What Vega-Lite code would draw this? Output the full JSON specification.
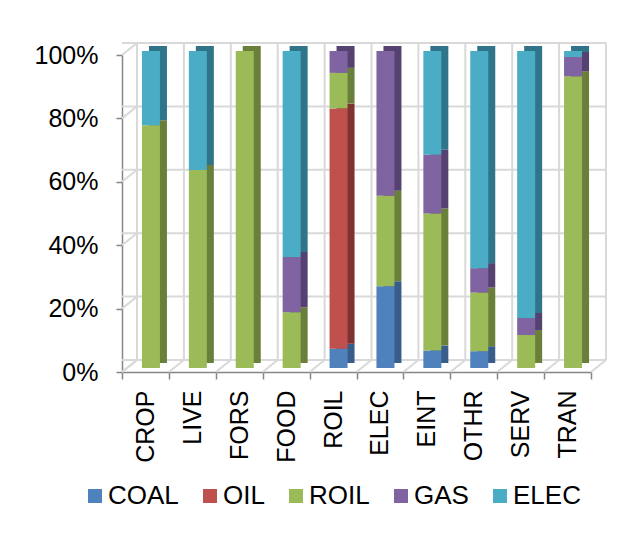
{
  "$schema": "https://vega.github.io/schema/vega-lite/v6.json",
  "width": 469,
  "height": 317,
  "autosize": {"type": "none"},
  "padding": {"left": 122, "top": 55, "right": 48, "bottom": 164},
  "background": "white",
  "config": {
    "view": {"stroke": null},
    "font": "Liberation Sans",
    "axisX": {
      "labelAngle": -90, "tickBand": "extent", "labelFontSize": 25, "labelColor": "black",
      "tickSize": 7, "labelPadding": 11, "domainColor": "#868686", "tickColor": "#868686",
      "domainWidth": 1.5, "tickWidth": 1.5, "grid": false
    },
    "axisY": {
      "labelFontSize": 25, "labelColor": "black", "tickCount": 5,
      "tickSize": 6, "labelPadding": 18, "domainColor": "#868686", "tickColor": "#868686",
      "domainWidth": 1.5, "tickWidth": 1.5, "grid": false
    }
  },
  "datasets": {
    "energy": [
      {"sector": "CROP", "fuel": "ROIL", "value": 76.6},
      {"sector": "CROP", "fuel": "ELEC", "value": 23.4},
      {"sector": "LIVE", "fuel": "ROIL", "value": 62.5},
      {"sector": "LIVE", "fuel": "ELEC", "value": 37.5},
      {"sector": "FORS", "fuel": "ROIL", "value": 100},
      {"sector": "FOOD", "fuel": "ROIL", "value": 17.6},
      {"sector": "FOOD", "fuel": "GAS", "value": 17.4},
      {"sector": "FOOD", "fuel": "ELEC", "value": 65.0},
      {"sector": "ROIL", "fuel": "COAL", "value": 6.1},
      {"sector": "ROIL", "fuel": "OIL", "value": 75.8},
      {"sector": "ROIL", "fuel": "ROIL", "value": 11.2},
      {"sector": "ROIL", "fuel": "GAS", "value": 6.9},
      {"sector": "ELEC", "fuel": "COAL", "value": 25.8},
      {"sector": "ELEC", "fuel": "ROIL", "value": 28.5},
      {"sector": "ELEC", "fuel": "GAS", "value": 45.7},
      {"sector": "EINT", "fuel": "COAL", "value": 5.5},
      {"sector": "EINT", "fuel": "ROIL", "value": 43.2},
      {"sector": "EINT", "fuel": "GAS", "value": 18.6},
      {"sector": "EINT", "fuel": "ELEC", "value": 32.7},
      {"sector": "OTHR", "fuel": "COAL", "value": 5.3},
      {"sector": "OTHR", "fuel": "ROIL", "value": 18.5},
      {"sector": "OTHR", "fuel": "GAS", "value": 7.7},
      {"sector": "OTHR", "fuel": "ELEC", "value": 68.5},
      {"sector": "SERV", "fuel": "ROIL", "value": 10.4},
      {"sector": "SERV", "fuel": "GAS", "value": 5.4},
      {"sector": "SERV", "fuel": "ELEC", "value": 84.2},
      {"sector": "TRAN", "fuel": "ROIL", "value": 92.0},
      {"sector": "TRAN", "fuel": "GAS", "value": 6.1},
      {"sector": "TRAN", "fuel": "ELEC", "value": 1.9}
    ],
    "cats": [
      {"sector": "CROP"}, {"sector": "LIVE"}, {"sector": "FORS"}, {"sector": "FOOD"}, {"sector": "ROIL"},
      {"sector": "ELEC"}, {"sector": "EINT"}, {"sector": "OTHR"}, {"sector": "SERV"}, {"sector": "TRAN"}
    ],
    "grid": [{"v": 0}, {"v": 0.2}, {"v": 0.4}, {"v": 0.6}, {"v": 0.8}, {"v": 1}]
  },
  "layer": [
    {
      "data": {"name": "grid"},
      "mark": {"type": "rule", "color": "#D9D9D9", "strokeWidth": 2, "xOffset": 15, "x2Offset": 15, "yOffset": -12},
      "encoding": {
        "y": {"field": "v", "type": "quantitative", "axis": {"title": null, "format": ".0%"}, "scale": {"domain": [0, 1], "nice": false}}
      }
    },
    {
      "data": {"name": "grid"},
      "mark": {"type": "rule", "color": "#D9D9D9", "strokeWidth": 2, "x2Offset": 15, "y2Offset": -12},
      "encoding": {
        "x": {"datum": "CROP", "type": "nominal", "bandPosition": 0, "scale": {"type": "band"}, "axis": {"title": null}},
        "x2": {"datum": "CROP", "bandPosition": 0},
        "y": {"field": "v", "type": "quantitative", "axis": {"title": null, "format": ".0%"}},
        "y2": {"field": "v"}
      }
    },
    {
      "data": {"name": "cats"},
      "mark": {"type": "rule", "color": "#D9D9D9", "strokeWidth": 2, "xOffset": 15, "yOffset": -12, "y2Offset": -12},
      "encoding": {
        "x": {"field": "sector", "type": "nominal", "bandPosition": 0, "scale": {"type": "band"}, "axis": {"title": null}},
        "y": {"datum": 0, "type": "quantitative", "axis": {"title": null, "format": ".0%"}},
        "y2": {"datum": 1}
      }
    },
    {
      "data": {"name": "cats"},
      "mark": {"type": "rule", "color": "#D9D9D9", "strokeWidth": 2, "x2Offset": 15, "y2Offset": -12},
      "encoding": {
        "x": {"field": "sector", "type": "nominal", "bandPosition": 0, "scale": {"type": "band"}, "axis": {"title": null}},
        "x2": {"field": "sector", "bandPosition": 0},
        "y": {"datum": 0, "type": "quantitative", "axis": {"title": null, "format": ".0%"}},
        "y2": {"datum": 0}
      }
    },
    {
      "data": {"name": "cats"},
      "transform": [{"filter": "datum.sector === 'TRAN'"}],
      "mark": {"type": "rule", "color": "#D9D9D9", "strokeWidth": 2, "xOffset": 15, "yOffset": -12, "y2Offset": -12},
      "encoding": {
        "x": {"field": "sector", "type": "nominal", "bandPosition": 1, "scale": {"type": "band"}, "axis": {"title": null}},
        "y": {"datum": 0, "type": "quantitative", "axis": {"title": null, "format": ".0%"}},
        "y2": {"datum": 1}
      }
    },
    {
      "data": {"name": "cats"},
      "transform": [{"filter": "datum.sector === 'TRAN'"}],
      "mark": {"type": "rule", "color": "#D9D9D9", "strokeWidth": 2, "x2Offset": 15, "y2Offset": -12},
      "encoding": {
        "x": {"field": "sector", "type": "nominal", "bandPosition": 1, "scale": {"type": "band"}, "axis": {"title": null}},
        "x2": {"field": "sector", "bandPosition": 1},
        "y": {"datum": 0, "type": "quantitative", "axis": {"title": null, "format": ".0%"}},
        "y2": {"datum": 0}
      }
    },
    {
      "data": {"name": "energy"},
      "transform": [{"calculate": "indexof(['COAL','OIL','ROIL','GAS','ELEC'], datum.fuel)", "as": "stackorder"}],
      "mark": {"type": "bar", "size": 18, "xOffset": 12.5, "yOffset": -9, "y2Offset": -9},
      "encoding": {
        "x": {"field": "sector", "type": "nominal", "scale": {"type": "band"}, "axis": {"title": null}},
        "y": {"field": "value", "type": "quantitative", "stack": "normalize", "axis": {"title": null, "format": ".0%"}},
        "order": {"field": "stackorder", "type": "quantitative", "sort": "ascending"},
        "color": {
          "field": "fuel", "type": "nominal",
          "scale": {"domain": ["COAL", "OIL", "ROIL", "GAS", "ELEC"], "range": ["#385D8A", "#7E3331", "#6A7F3A", "#554271", "#2F7488"]},
          "legend": null
        }
      }
    },
    {
      "data": {"name": "energy"},
      "transform": [{"calculate": "indexof(['COAL','OIL','ROIL','GAS','ELEC'], datum.fuel)", "as": "stackorder"}],
      "mark": {"type": "bar", "size": 18, "xOffset": 5.5, "yOffset": -4, "y2Offset": -4},
      "encoding": {
        "x": {
          "field": "sector", "type": "nominal",
          "scale": {"type": "band", "domain": ["CROP", "LIVE", "FORS", "FOOD", "ROIL", "ELEC", "EINT", "OTHR", "SERV", "TRAN"], "paddingInner": 0, "paddingOuter": 0},
          "axis": {"title": null}
        },
        "y": {"field": "value", "type": "quantitative", "stack": "normalize", "axis": {"title": null, "format": ".0%"}},
        "order": {"field": "stackorder", "type": "quantitative", "sort": "ascending"},
        "color": {
          "field": "fuel", "type": "nominal",
          "scale": {"domain": ["COAL", "OIL", "ROIL", "GAS", "ELEC"], "range": ["#4F81BD", "#C0504D", "#9BBB59", "#8064A2", "#4BACC6"]},
          "legend": {
            "orient": "none", "legendX": -40, "legendY": 428, "direction": "horizontal", "title": null,
            "symbolType": "square", "symbolSize": 196, "symbolStrokeWidth": 0, "labelFontSize": 26, "labelColor": "black",
            "columnPadding": 18, "labelOffset": 0, "padding": 0
          }
        }
      }
    }
  ],
  "resolve": {"scale": {"color": "independent"}}
}
